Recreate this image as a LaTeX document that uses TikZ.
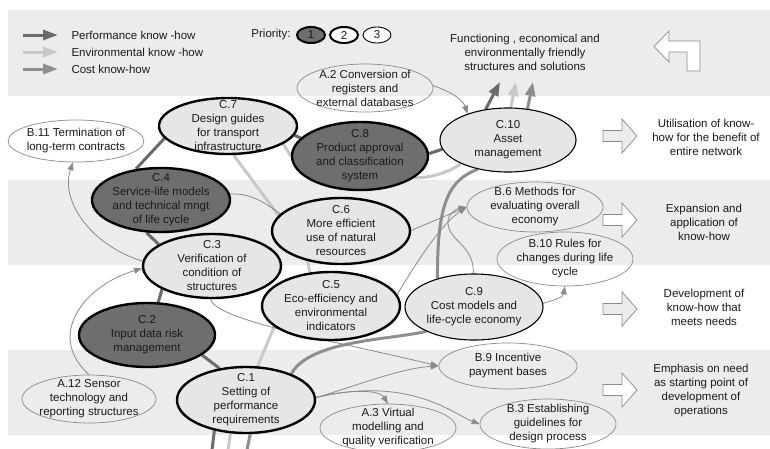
\documentclass[tikz,border=0pt]{standalone}
\usepackage{fontspec}
\setmainfont{Liberation Sans}
\usetikzlibrary{shapes.geometric,arrows.meta}
\pgfdeclarelayer{bands}
\pgfdeclarelayer{links}
\pgfsetlayers{bands,links,main}

\definecolor{bandgray}{HTML}{ECECEC}
\definecolor{nodefill}{HTML}{E6E6E6}
\definecolor{darkfill}{HTML}{6E6E6E}
\definecolor{perfc}{HTML}{6A6A6A}
\definecolor{envc}{HTML}{C8C8C8}
\definecolor{costc}{HTML}{8E8E8E}
\definecolor{linkc}{HTML}{8A8A8A}
\definecolor{inkc}{HTML}{1A1A1A}

\tikzset{
  every node/.style={font=\fontsize{11.5}{14}\selectfont, text=inkc},
  nodetext/.style={align=center, inner sep=0pt},
  prioA/.style={ellipse, inner sep=0pt, fill=darkfill, draw=black, line width=2.4pt},
  prioB/.style={ellipse, inner sep=0pt, fill=nodefill, draw=black, line width=2.4pt},
  prioC/.style={ellipse, inner sep=0pt, fill=nodefill, draw=black, line width=1.1pt},
  source/.style={ellipse, inner sep=0pt, draw=linkc, line width=0.7pt},
  perf/.style={draw=perfc, line width=3pt},
  env/.style={draw=envc, line width=3pt},
  cost/.style={draw=costc, line width=3pt},
  bigtip/.style={-{Triangle[length=14pt,width=10pt]}},
  link/.style={draw=linkc, line width=0.8pt, -{Triangle[length=8pt,width=6pt]}},
  blockarrow/.style={draw=linkc, line width=0.7pt},
}

% ellipse node with its text set separately, so the text never resizes it
\newcommand\ovalat[6]{%
  \node[#1, minimum width=#4pt, minimum height=#5pt] (#2) at (#3) {};
  \node[nodetext] (#2-t) at (#2.center) {#6};}

\begin{document}
\begin{tikzpicture}[x=1pt,y=-1pt]
\useasboundingbox (0,0) rectangle (770,448);

% horizontal bands
\begin{pgfonlayer}{bands}
  \fill[white] (0,0) rectangle (770,448);
  \fill[bandgray] (8,10) rectangle (770,96);
  \fill[bandgray] (8,180) rectangle (770,265);
  \fill[bandgray] (8,350) rectangle (770,435);
\end{pgfonlayer}

% legend
\draw[perf, -{Triangle[length=15pt,width=10pt]}] (23,35) -- (58,35);
\draw[env, -{Triangle[length=15pt,width=10pt]}] (23,52) -- (58,52);
\draw[cost, -{Triangle[length=15pt,width=10pt]}] (23,69) -- (58,69);
\node[anchor=west] (lg-perf) at (68,35) {Performance know -how};
\node[anchor=west] (lg-env) at (68,52) {Environmental know -how};
\node[anchor=west] (lg-cost) at (68,69) {Cost know-how};

\node[anchor=east] (prio) at (294,35) {Priority:};
\node[prioA, line width=2pt, minimum width=28pt, minimum height=16pt] (p1) at (311,35) {1};
\node[prioB, fill=white, line width=2pt, minimum width=28pt, minimum height=16pt] (p2) at (344,35) {2};
\node[prioC, fill=white, line width=0.9pt, minimum width=28pt, minimum height=16pt] (p3) at (377,35) {3};

% outcome texts and arrows on the right
\node[nodetext] (goal) at (525,52) {Functioning , economical and\\environmentally friendly\\structures and solutions};
\filldraw[blockarrow, fill=white] (654,46.5) -- (669,31) -- (669,41) -- (700,41) -- (700,71)
  -- (687,71) -- (687,52) -- (669,52) -- (669,62) -- cycle;

\node[nodetext] (out1) at (706,137) {Utilisation of know-\\how for the benefit of\\entire network};
\node[nodetext] (out2) at (704,222) {Expansion and\\application of\\know-how};
\node[nodetext] (out3) at (704,307) {Development of\\know-how that\\meets needs};
\node[nodetext] (out4) at (701,391) {Emphasis on need\\as starting point of\\development of\\operations};

\filldraw[blockarrow, fill=bandgray] (603,136) ++(0,-5.5) -- ++(19,0) -- ++(0,-11.5) -- ++(15,17)
  -- ++(-15,17) -- ++(0,-11.5) -- ++(-19,0) -- cycle;
\filldraw[blockarrow, fill=white] (603,220) ++(0,-5.5) -- ++(19,0) -- ++(0,-11.5) -- ++(15,17)
  -- ++(-15,17) -- ++(0,-11.5) -- ++(-19,0) -- cycle;
\filldraw[blockarrow, fill=bandgray] (603,309) ++(0,-5.5) -- ++(19,0) -- ++(0,-11.5) -- ++(15,17)
  -- ++(-15,17) -- ++(0,-11.5) -- ++(-19,0) -- cycle;
\filldraw[blockarrow, fill=white] (603,390) ++(0,-5.5) -- ++(19,0) -- ++(0,-11.5) -- ++(15,17)
  -- ++(-15,17) -- ++(0,-11.5) -- ++(-19,0) -- cycle;

% activity nodes
\ovalat{source}{a2}{365,88}{136}{48}{A.2 Conversion of\\registers and\\external databases}
\ovalat{prioB}{c7}{228,126}{138}{56}{C.7\\Design guides\\for transport\\infrastructure}
\ovalat{prioA}{c8}{360,156}{136}{68}{C.8\\Product approval\\and classification\\system}
\ovalat{prioC}{c10}{508,140}{136}{64}{C.10\\Asset\\management}
\ovalat{source}{b11}{76,141}{136}{42}{B.11 Termination of\\long-term contracts}
\ovalat{prioA}{c4}{161,200}{138}{64}{C.4\\Service-life models\\and technical mngt\\of life cycle}
\ovalat{prioB}{c6}{341,231}{138}{66}{C.6\\More efficient\\use of natural\\resources}
\ovalat{source}{b6}{535,207}{136}{50}{B.6 Methods for\\evaluating overall\\economy}
\ovalat{source}{b10}{565,259}{136}{54}{B.10 Rules for\\changes during life\\cycle}
\ovalat{prioB}{c3}{212,266}{138}{64}{C.3\\Verification of\\condition of\\structures}
\ovalat{prioB}{c5}{331,306}{138}{68}{C.5\\Eco-efficiency and\\environmental\\indicators}
\ovalat{prioC}{c9}{474,307}{138}{66}{C.9\\Cost models and\\life-cycle economy}
\ovalat{prioA}{c2}{147,335}{136}{64}{C.2\\Input data risk\\management}
\ovalat{source}{b9}{508,366}{138}{46}{B.9 Incentive\\payment bases}
\ovalat{source}{a12}{89,399}{134}{48}{A.12 Sensor\\technology and\\reporting structures}
\ovalat{prioB}{c1}{246,400}{138}{66}{C.1\\Setting of\\performance\\requirements}
\ovalat{source}{a3}{388,428}{136}{48}{A.3 Virtual\\modelling and\\quality verification}
\ovalat{source}{b3}{548,424}{136}{50}{B.3 Establishing\\guidelines for\\design process}

% free ends of the three know-how streams
\coordinate (pb) at (212,450);
\coordinate (eb) at (228,450);
\coordinate (cb) at (247,450);
\coordinate (pt) at (500,82);
\coordinate (et) at (516,82);
\coordinate (ct) at (533,82);

\begin{pgfonlayer}{links}
  % performance stream
  \draw[perf] (pb) -- (c1.224);
  \draw[perf] (c1.130) -- (c2.-20);
  \draw[perf] (c2.71) -- (c3.205);
  \draw[perf] (c3.158) -- (c4.246);
  \draw[perf] (c4.129) -- (c7.191);
  \draw[perf] (c7.-8) -- (c8.163);
  \draw[perf] (c8.2) -- (c10.188);
  \draw[perf, bigtip] (c10.126) -- (pt);
  % environmental stream
  \draw[env] (eb) -- (c1.245);
  \draw[env] (c1.71) -- (c5.200);
  \draw[env] (c5.122) -- (c6.222);
  \draw[env] (c6.166) -- (c7.281);
  \draw[env] (c7.-18) -- (c8.180);
  \draw[env] (c8.-22) .. controls (430,178) and (447,173) .. (c10.207);
  \draw[env, bigtip] (c10.85) -- (et);
  % cost stream
  \draw[cost] (cb) -- (c1.277);
  \draw[cost] (c1.30) .. controls (310,340) and (390,340) .. (c9.207);
  \draw[cost] (c9.142) .. controls (437,200) and (450,180) .. (c10.224);
  \draw[cost, bigtip] (c10.58) -- (ct);
  % supporting links
  \draw[link] (a2.2) .. controls (452,92) and (463,100) .. (c10.147);
  \draw[link] (a12.north) .. controls (45,335) and (85,285) .. (c3.182);
  \draw[link] (c3.176) .. controls (90,245) and (60,200) .. (b11.262);
  \draw[link] (c4.5) .. controls (255,193) and (268,205) .. (300,228) -- (405,233) -- (b6.180);
  \draw[link] (c5.10) .. controls (415,265) and (440,225) .. (b6.180);
  \draw[link] (c9.91) .. controls (474,245) and (450,242) .. (448,224)
    .. controls (447,214) and (456,209) .. (b6.180);
  \draw[link] (c9.3) .. controls (555,300) and (563,297) .. (b10.south);
  \draw[link] (c3.268) .. controls (215,320) and (330,340) .. (b9.180);
  \draw[link] (c1.2) .. controls (350,388) and (400,368) .. (b9.180);
  \draw[link] (c1.2) .. controls (340,391) and (378,388) .. (a3.north);
  \draw[link] (c1.2) .. controls (410,375) and (455,415) .. (b3.180);
\end{pgfonlayer}
\end{tikzpicture}
\end{document}
